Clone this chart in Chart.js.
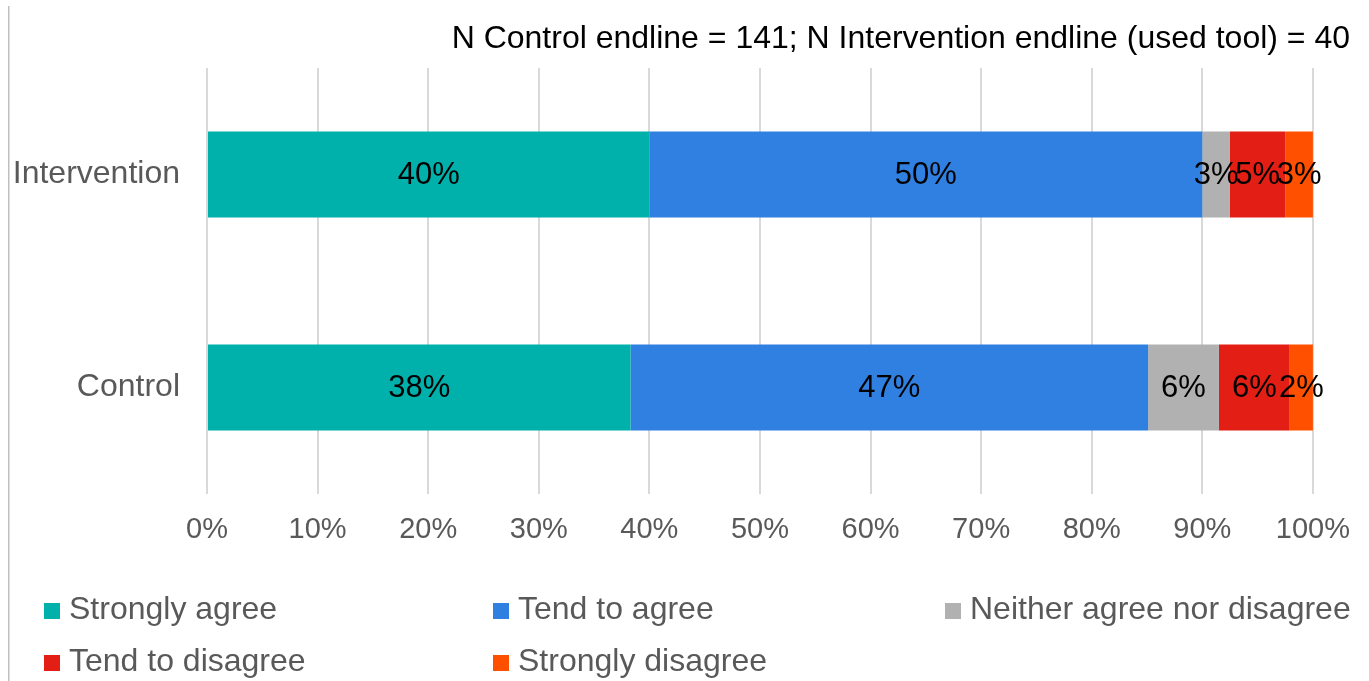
<!DOCTYPE html>
<html>
<head>
<meta charset="utf-8">
<title>Endline agreement</title>
<script src="https://cdn.jsdelivr.net/npm/chart.js@4.4.0/dist/chart.umd.min.js"></script>
<style>
    html, body { margin: 0; padding: 0; background: #fff; }
    #wrap { position: relative; width: 1369px; height: 681px; }
</style>
</head>
<body>
<div id="wrap"><canvas id="agreeChart" width="1369" height="681"></canvas></div>
<script>
// Survey groups and answer shares (percent of respondents)
const groups = ['Intervention', 'Control'];
const answers = ['Strongly agree', 'Tend to agree', 'Neither agree nor disagree', 'Tend to disagree', 'Strongly disagree'];
const stronglyAgree = [40, 38.3];
const tendToAgree = [50, 46.8];
const neitherNor = [2.5, 6.4];
const tendToDisagree = [5, 6.4];
const stronglyDisagree = [2.5, 2.1];
const xTicks = [0, 10, 20, 30, 40, 50, 60, 70, 80, 90, 100];
const sampleNote = 'N Control endline = 141; N Intervention endline (used tool) = 40';

const colours = ['#00B0AB', '#2F80E1', '#B1B1B1', '#E31F15', '#FF5000'];
const series = [stronglyAgree, tendToAgree, neitherNor, tendToDisagree, stronglyDisagree];

const FONT = '"Liberation Sans", Arial, sans-serif';

// frame line, sample size note, value labels and the two-row legend
const extras = {
    id: 'extras',
    beforeDraw(chart) {
        const ctx = chart.ctx;
        ctx.save();
        ctx.fillStyle = '#BFBFBF';
        ctx.fillRect(8, 6, 1.5, chart.height - 6);
        ctx.restore();
    },
    afterDatasetsDraw(chart) {
        const ctx = chart.ctx;
        ctx.save();
        ctx.font = '31px ' + FONT;
        ctx.fillStyle = '#000';
        ctx.textAlign = 'center';
        ctx.textBaseline = 'middle';
        chart.data.datasets.forEach((ds, i) => {
            chart.getDatasetMeta(i).data.forEach((bar, j) => {
                const c = bar.getCenterPoint();
                ctx.fillText(Math.round(ds.data[j]) + '%', c.x, c.y + 1);
            });
        });
        ctx.restore();
    },
    afterDraw(chart) {
        const ctx = chart.ctx;
        ctx.save();
        ctx.fillStyle = '#000';
        ctx.font = '32px "Liberation Sans Narrow", "Arial Narrow", ' + FONT;
        ctx.textAlign = 'right';
        ctx.textBaseline = 'middle';
        ctx.fillText(sampleNote, 1350, 39);

        // legend: three columns, wraps onto a second row
        const colX = [44, 493, 945];
        const rowY = [610, 662];
        ctx.font = '32px ' + FONT;
        ctx.textAlign = 'left';
        chart.data.datasets.forEach((ds, i) => {
            const x = colX[i % 3];
            const y = rowY[Math.floor(i / 3)];
            ctx.fillStyle = ds.backgroundColor;
            ctx.fillRect(x, y - 7, 16, 16);
            ctx.fillStyle = '#595959';
            ctx.fillText(ds.label, x + 25, y);
        });
        ctx.restore();
    }
};

const chart = new Chart(document.getElementById('agreeChart'), {
    type: 'bar',
    data: {
        labels: groups,
        datasets: answers.map((name, i) => ({
            label: name,
            data: series[i],
            backgroundColor: colours[i],
            borderWidth: 0,
            categoryPercentage: 1,
            barPercentage: 0.404
        }))
    },
    options: {
        indexAxis: 'y',
        responsive: false,
        animation: false,
        layout: { padding: { top: 68, right: 56, left: 0, bottom: 0 } },
        plugins: {
            legend: { display: false },
            title: { display: false },
            tooltip: { enabled: false }
        },
        scales: {
            x: {
                stacked: true,
                min: 0,
                max: 100,
                afterBuildTicks(scale) {
                    scale.ticks = xTicks.map(v => ({ value: v }));
                },
                afterFit(scale) { scale.height = 187; },
                grid: { color: '#D9D9D9', lineWidth: 2, drawTicks: false },
                border: { display: false },
                ticks: {
                    padding: 19,
                    color: '#595959',
                    font: { family: FONT, size: 29 },
                    callback: v => v + '%'
                }
            },
            y: {
                stacked: true,
                afterFit(scale) { scale.width = 207; },
                grid: { display: false, drawTicks: false },
                border: { display: false },
                ticks: {
                    padding: 27,
                    color: '#595959',
                    font: { family: FONT, size: 32 }
                }
            }
        }
    },
    plugins: [extras]
});
</script>
</body>
</html>
